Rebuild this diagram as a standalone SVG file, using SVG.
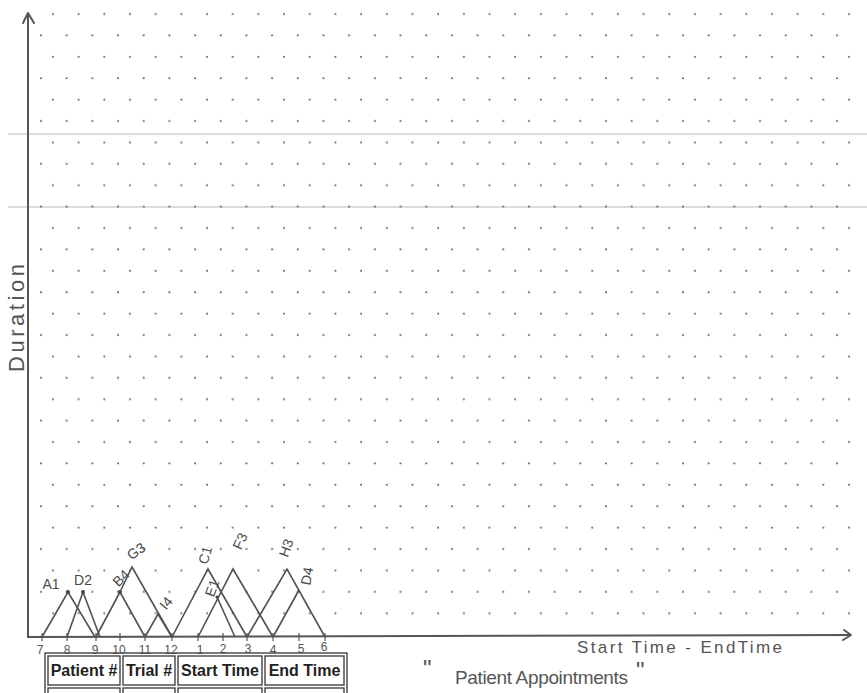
<svg xmlns="http://www.w3.org/2000/svg" width="867" height="693" viewBox="0 0 867 693">
<style>
.hand{font-family:"Liberation Sans","DejaVu Sans",sans-serif;fill:#555;}
.lbl{font-family:"Liberation Sans","DejaVu Sans",sans-serif;fill:#4a4a4a;font-size:14px;text-anchor:middle;dominant-baseline:central;}
.tick{font-family:"Liberation Sans","DejaVu Sans",sans-serif;fill:#555;font-size:12px;text-anchor:middle;}
.tri{fill:none;stroke:#505050;stroke-width:1.6;stroke-linejoin:miter;}
.axis{fill:none;stroke:#555;stroke-width:2;stroke-linecap:round;stroke-linejoin:round;}
.cell{fill:none;stroke:#444;stroke-width:1.4;}
.th{font-family:"Liberation Sans",Arial,sans-serif;font-weight:bold;font-size:16px;fill:#222;text-anchor:middle;}
.peak{fill:#444;}
</style>
<defs>
<pattern id="dots" patternUnits="userSpaceOnUse" x="28.16" y="3.3" width="25.68" height="42.8">
<circle cx="24.84" cy="10.7" r="1.1" fill="#666"/>
<circle cx="12.84" cy="32.1" r="1.1" fill="#666"/>
</pattern>
</defs>
<rect width="867" height="693" fill="#ffffff"/>
<line x1="8" y1="134" x2="867" y2="134" stroke="#dcdcdc" stroke-width="2"/>
<line x1="8" y1="207" x2="867" y2="207" stroke="#dcdcdc" stroke-width="2"/>
<rect x="36" y="8" width="818" height="610" fill="url(#dots)"/>

<g id="connectors">
<g id="axes">
<line class="axis" x1="28" y1="637" x2="28" y2="14"/>
<polyline class="axis" points="23,23 28,13 34,23"/>
<line class="axis" x1="28" y1="637" x2="850" y2="635"/>
<polyline class="axis" points="844,630 851,635 843,640"/>
<g stroke="#555" stroke-width="1.2">
<line x1="42" y1="633" x2="42" y2="641"/>
<line x1="67" y1="633" x2="67" y2="641"/>
<line x1="96" y1="633" x2="96" y2="641"/>
<line x1="120" y1="633" x2="120" y2="641"/>
<line x1="145" y1="633" x2="145" y2="641"/>
<line x1="172" y1="633" x2="172" y2="641"/>
<line x1="198" y1="633" x2="198" y2="641"/>
<line x1="223" y1="633" x2="223" y2="641"/>
<line x1="247" y1="633" x2="247" y2="641"/>
<line x1="273" y1="633" x2="273" y2="641"/>
<line x1="299" y1="633" x2="299" y2="641"/>
<line x1="325" y1="633" x2="325" y2="641"/>
</g>
</g>
</g>

<g id="tick-labels">
<text class="tick" x="40" y="654">7</text>
<text class="tick" x="67" y="654">8</text>
<text class="tick" x="95" y="654">9</text>
<text class="tick" x="119" y="654">10</text>
<text class="tick" x="145" y="654">11</text>
<text class="tick" x="171" y="654">12</text>
<text class="tick" x="200" y="654">1</text>
<text class="tick" x="223" y="653">2</text>
<text class="tick" x="248" y="653">3</text>
<text class="tick" x="273" y="654">4</text>
<text class="tick" x="301" y="653">5</text>
<text class="tick" x="324" y="651">6</text>
</g>

<g id="node-A1">
<polyline class="tri" points="42,637 68,592 95,637"/>
<circle class="peak" cx="68" cy="592" r="2"/>
<text class="lbl" x="51" y="584" font-size="16">A1</text>
</g>
<g id="node-D2">
<polyline class="tri" points="67,637 83,592 100,637"/>
<circle class="peak" cx="83" cy="592" r="2"/>
<text class="lbl" x="83" y="580" font-size="16">D2</text>
</g>
<g id="node-B4">
<polyline class="tri" points="96,637 120,592 145,637"/>
<circle class="peak" cx="120" cy="592" r="2"/>
<text class="lbl" x="121" y="578" transform="rotate(-45 121 578)">B4</text>
</g>
<g id="node-G3">
<polyline class="tri" points="120,592 132,567 172,637"/>
<text class="lbl" x="136" y="551" font-size="15" transform="rotate(-35 136 551)">G3</text>
</g>
<g id="node-I4">
<polyline class="tri" points="145,637 158,614 172,637"/>
<text class="lbl" x="166" y="603" font-size="12" transform="rotate(-50 166 603)">I4</text>
</g>
<g id="node-C1">
<polyline class="tri" points="172,637 208,569 247,637"/>
<text class="lbl" x="205" y="555" font-size="15" transform="rotate(-75 205 555)">C1</text>
</g>
<g id="node-F3">
<polyline class="tri" points="198,637 233,569 273,637"/>
<text class="lbl" x="240" y="541" font-size="15" transform="rotate(-65 240 541)">F3</text>
</g>
<g id="node-E1">
<polyline class="tri" points="217,597 235,637"/>
<circle class="peak" cx="217" cy="597" r="1.5"/>
<text class="lbl" x="212" y="588" font-size="13" transform="rotate(-70 212 588)">E1</text>
</g>
<g id="node-H3">
<polyline class="tri" points="247,637 287,569 325,637"/>
<text class="lbl" x="286" y="548" font-size="15" transform="rotate(-70 286 548)">H3</text>
</g>
<g id="node-D4">
<polyline class="tri" points="273,637 299,590"/>
<text class="lbl" x="307" y="576" font-size="15" transform="rotate(-80 307 576)">D4</text>
</g>

<g id="axis-labels">
<text class="hand" x="0" y="0" font-size="22" transform="translate(24 372) rotate(-90)" textLength="108" lengthAdjust="spacing">Duration</text>
<text class="hand" x="577" y="653" font-size="17" textLength="205" lengthAdjust="spacing">Start Time - EndTime</text>
<text class="hand" x="423" y="677" font-size="24">"</text>
<text class="hand" x="455" y="684" font-size="19" textLength="173" lengthAdjust="spacing">Patient Appointments</text>
<text class="hand" x="636" y="679" font-size="24">"</text>
</g>

<g id="table">
<rect class="cell" x="45" y="653" width="302" height="50"/>
<rect class="cell" x="48" y="656" width="72" height="29"/>
<rect class="cell" x="123" y="656" width="52" height="29"/>
<rect class="cell" x="178" y="656" width="84" height="29"/>
<rect class="cell" x="265" y="656" width="79" height="29"/>
<rect class="cell" x="48" y="688" width="72" height="20"/>
<rect class="cell" x="123" y="688" width="52" height="20"/>
<rect class="cell" x="178" y="688" width="84" height="20"/>
<rect class="cell" x="265" y="688" width="79" height="20"/>
<text class="th" x="84" y="676">Patient #</text>
<text class="th" x="149" y="676">Trial #</text>
<text class="th" x="220" y="676">Start Time</text>
<text class="th" x="304.5" y="676">End Time</text>
</g>
</svg>
